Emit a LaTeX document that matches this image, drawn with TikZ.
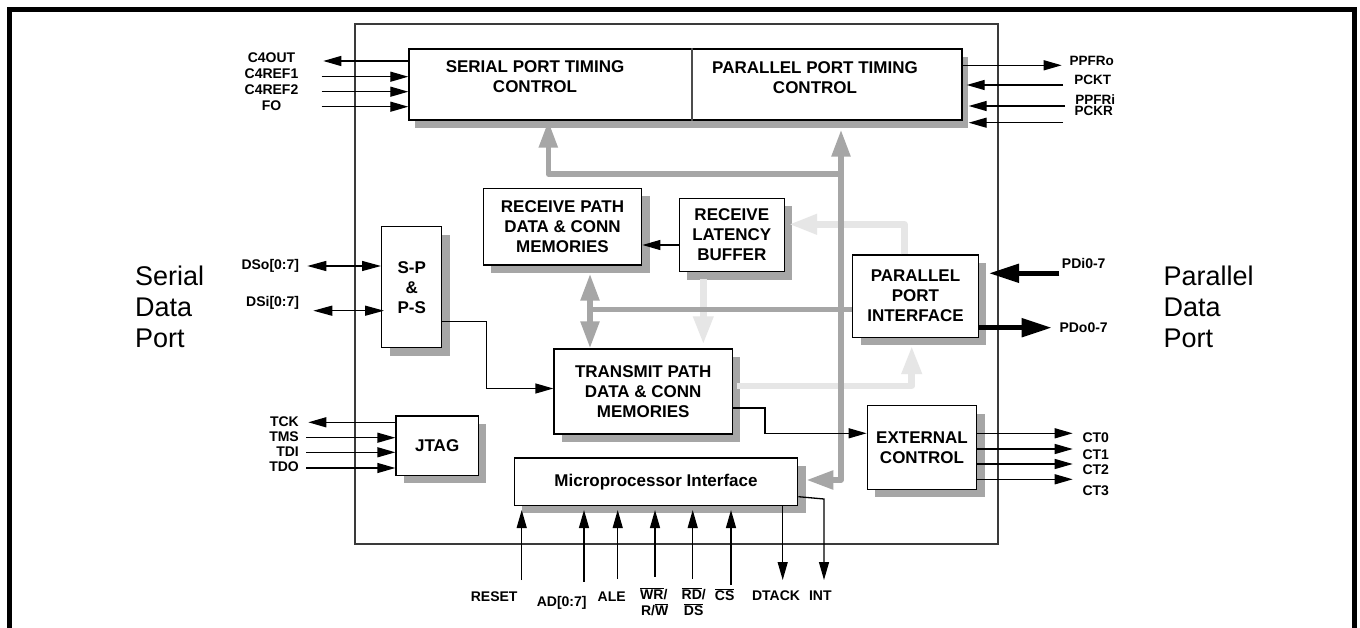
\documentclass[tikz,border=0pt]{standalone}
\usepackage{fontspec}
\setmainfont{Liberation Sans}
\usetikzlibrary{arrows.meta,shadows,calc}
\definecolor{shgray}{HTML}{A6A6A6}
\definecolor{busdark}{HTML}{A6A6A6}
\definecolor{buslight}{HTML}{E6E6E6}
\definecolor{chipline}{HTML}{3A3A3A}
\newcommand\ovl[1]{$\overline{\hbox{#1}}$}
\begin{document}
\begin{tikzpicture}[x=1pt,y=-1pt,
  blk/.style={draw=black,line width=1.4pt,fill=white,inner sep=0pt,align=center,
    font=\fontsize{17}{20}\selectfont\bfseries,
    drop shadow={shadow xshift=8pt,shadow yshift=-8pt,fill=shgray,opacity=1}},
  blktext/.style={inner sep=0pt,align=center,font=\fontsize{17}{20}\selectfont\bfseries},
  pin/.style={inner sep=0pt,font=\fontsize{14}{16}\selectfont\bfseries},
  pinr/.style={inner sep=0pt,font=\fontsize{13.5}{16}\selectfont\bfseries},
  port/.style={inner sep=0pt,align=left,font=\fontsize{27}{31}\selectfont},
  sig/.style={line width=1.3pt,-{Triangle[length=18pt,width=10pt]}},
  sigb/.style={line width=1.3pt,{Triangle[length=19pt,width=10pt]}-{Triangle[length=19pt,width=10pt]}},
  fat/.style={line width=5pt,-{Triangle[length=30pt,width=18pt]}},
  dbus/.style={draw=busdark,line width=5.5pt,line join=round},
  lbus/.style={draw=buslight,line width=6.5pt,line join=round},
  dtip/.style={-{Triangle[length=27pt,width=18pt]}},
  dtips/.style={{Triangle[length=27pt,width=18pt]}-{Triangle[length=27pt,width=18pt]}},
  ltip/.style={-{Triangle[length=28pt,width=19pt]}}
]
\useasboundingbox (0,0) rectangle (1360,628);
\fill[white] (0,0) rectangle (1360,628);
% outer frame
\draw[line width=5pt] (9.5,640) -- (9.5,9.5) -- (1354,9.5) -- (1354,640);
% chip boundary
\node[draw=chipline,line width=1.4pt,minimum width=643pt,minimum height=520pt,inner sep=0pt] (chip) at (676.5,284) {};

% timing control
\node[draw=black,line width=1.4pt,fill=white,inner sep=0pt,minimum width=553pt,minimum height=71pt,
  drop shadow={shadow xshift=5.5pt,shadow yshift=-8.5pt,fill=shgray,opacity=1}] (tc) at (685.5,84.5) {};
\coordinate (dv) at (692,84.5);
\draw[line width=1.2pt,draw=black!70] (dv |- tc.north) -- (dv |- tc.south);
\node[blktext] (spt) at (535,77) {SERIAL PORT TIMING\\CONTROL};
\node[blktext] (ppt) at (815,78) {PARALLEL PORT TIMING\\CONTROL};

% blocks
\node[blk,minimum width=158.4pt,minimum height=76.7pt] (rp) at (562.5,226.7) {RECEIVE PATH\\DATA \& CONN\\MEMORIES};
\node[blk,minimum width=105pt,minimum height=73.4pt] (rlb) at (731.8,235) {RECEIVE\\LATENCY\\BUFFER};
\node[blk,minimum width=60pt,minimum height=121pt] (sp) at (411.7,287.2) {S-P\\\&\\P-S};
\node[blk,minimum width=178.3pt,minimum height=85pt] (tp) at (643.2,391.5) {TRANSMIT PATH\\DATA \& CONN\\MEMORIES};
\node[blk,minimum width=125.6pt,minimum height=82.3pt] (ppi) at (915.5,296.2) {PARALLEL\\PORT\\INTERFACE};
\node[blk,minimum width=109.4pt,minimum height=83.6pt] (ec) at (922,447.5) {EXTERNAL\\CONTROL};
\node[blk,minimum width=283.4pt,minimum height=47.3pt] (mi) at (656,481.7) {Microprocessor Interface};
\node[blk,minimum width=82.3pt,minimum height=59.3pt] (jtag) at (437.2,445.7) {JTAG};

% light buses
\coordinate (l1s) at (703.3,279);
\draw[lbus,ltip] (l1s) -- ($(l1s |- tp.north)+(0,-4)$);
\coordinate (l2) at (904.3,224.3);
\draw[lbus,ltip] (l2 |- ppi.north) -- (l2) -- ($(l2 -| rlb.east)+(4,0)$);
\coordinate (l3) at (911.7,386);
\draw[lbus,ltip] ($(l3 -| tp.east)+(4,0)$) -- (l3) -- ($(l3 |- ppi.south)+(0,8)$);

% dark buses
\coordinate (sbus) at (548.3,174);
\coordinate (vbus) at (841,174);
\draw[dbus,dtip] (vbus) -- (sbus) -- (sbus |- tc.south);
\coordinate (mib) at (841,480);
\draw[dbus,dtips] ($(mib -| mi.east)+(8,0)$) -- (mib) -- ($(mib |- tc.south)+(0,9)$);
\coordinate (hbus) at (590,309.3);
\draw[dbus] (hbus) -- (hbus -| ppi.west);
\draw[dbus,dtips] ($(hbus |- rp.south)+(0,8)$) -- (hbus |- tp.north);

% internal signals
\coordinate (rlbo) at ($(rlb.west)+(0,10)$);
\draw[sig] (rlbo) -- (rlbo -| rp.east);
\coordinate (sptp) at (486.7,321.7);
\draw[sig] (sptp -| sp.east) -- (sptp) |- ($(tp.west)+(0,-3)$);
\coordinate (tpo) at (765,408);
\draw[sig] (tpo -| tp.east) -- (tpo) |- ($(ec.west)+(0,-14.2)$);

% top-left pins
\node[pin,anchor=base] (c4out) at (271.5,62.7) {C4OUT};
\node[pin,anchor=base] (c4ref1) at (271.5,79) {C4REF1};
\node[pin,anchor=base] (c4ref2) at (271.5,95) {C4REF2};
\node[pin,anchor=base] (fo) at (271.5,111) {FO};
\coordinate (c4oute) at (323.3,61);
\draw[sig] (c4oute -| tc.west) -- (c4oute);
\coordinate (c4r1e) at (321.7,76.7);
\draw[sig] (c4r1e) -- (c4r1e -| tc.west);
\coordinate (c4r2e) at (321.7,91.7);
\draw[sig] (c4r2e) -- (c4r2e -| tc.west);
\coordinate (foe) at (321.7,106.7);
\draw[sig] (foe) -- (foe -| tc.west);

% top-right pins
\node[pinr,anchor=base] (ppfro) at (1091.7,65.7) {PPFRo};
\node[pinr,anchor=base] (pckt) at (1092.8,84.3) {PCKT};
\node[pinr,anchor=base] (ppfri) at (1095.3,104.3) {PPFRi};
\node[pinr,anchor=base] (pckr) at (1093.8,115.5) {PCKR};
\coordinate (ppfroe) at (1061.7,65.3);
\draw[sig] (ppfroe -| tc.east) -- (ppfroe);
\coordinate (pckte) at (1063,85);
\draw[sig] (pckte) -- ($(pckte -| tc.east)+(4,0)$);
\coordinate (ppfrie) at (1065,106);
\draw[sig] (ppfrie) -- ($(ppfrie -| tc.east)+(6,0)$);
\coordinate (pckre) at (1063,122.7);
\draw[sig] (pckre) -- ($(pckre -| tc.east)+(6,0)$);

% serial data pins
\node[pin,anchor=base east] (dso) at (299.3,270) {DSo[0:7]};
\node[pin,anchor=base east] (dsi) at (299.3,306.7) {DSi[0:7]};
\coordinate (dsoe) at (307.3,266);
\draw[sigb] (dsoe) -- (dsoe -| sp.west);
\coordinate (dsie) at (313.3,310.7);
\draw[sigb] (dsie) -- ($(dsie -| sp.west)+(3,0)$);

% JTAG pins
\node[pin,anchor=base east] (tck) at (299,426.7) {TCK};
\node[pin,anchor=base east] (tms) at (299,441) {TMS};
\node[pin,anchor=base east] (tdi) at (299,456) {TDI};
\node[pin,anchor=base east] (tdo) at (299,471) {TDO};
\coordinate (tcke) at (308.3,422.3);
\draw[sig] (tcke -| jtag.west) -- (tcke);
\coordinate (tmse) at (306,437.7);
\draw[sig] (tmse) -- (tmse -| jtag.west);
\coordinate (tdie) at (306,452.3);
\draw[sig] (tdie) -- (tdie -| jtag.west);
\coordinate (tdoe) at (306,468);
\draw[sig] (tdoe) -- (tdoe -| jtag.west);

% parallel data
\node[pin,anchor=base west] (pdi) at (1061.7,268.3) {PDi0-7};
\node[pin,anchor=base west] (pdo) at (1059.3,332.3) {PDo0-7};
\coordinate (pdie) at (1059.3,273.3);
\draw[fat] (pdie) -- ($(pdie -| ppi.east)+(10,0)$);
\coordinate (pdoe) at (1051.7,327.7);
\draw[fat] (pdoe -| ppi.east) -- (pdoe);

% external control outputs
\node[pin,anchor=base west] (ct0) at (1082.3,442.7) {CT0};
\node[pin,anchor=base west] (ct1) at (1082.3,459.3) {CT1};
\node[pin,anchor=base west] (ct2) at (1082.3,474) {CT2};
\node[pin,anchor=base west] (ct3) at (1082.3,495) {CT3};
\coordinate (ct0e) at (1072.7,433.3);
\draw[sig] (ct0e -| ec.east) -- (ct0e);
\coordinate (ct1e) at (1072.7,449);
\draw[sig] (ct1e -| ec.east) -- (ct1e);
\coordinate (ct2e) at (1072.7,464);
\draw[sig] (ct2e -| ec.east) -- (ct2e);
\coordinate (ct3e) at (1072.7,479.3);
\draw[sig] (ct3e -| ec.east) -- (ct3e);

% microprocessor pins
\node[pin,anchor=base] (rst) at (494.2,601.7) {RESET};
\node[pin,anchor=base] (adl) at (561.7,606.7) {AD[0:7]};
\node[pin,anchor=base] (alel) at (611.7,601.7) {ALE};
\node[pin,anchor=base] (wr1) at (653.8,599) {\ovl{WR}/};
\node[pin,anchor=base] (wr2) at (654.6,615) {R/\ovl{W}};
\node[pin,anchor=base] (rd1) at (693.7,599) {\ovl{RD}/};
\node[pin,anchor=base] (rd2) at (693.7,615) {\ovl{DS}};
\node[pin,anchor=base] (csl) at (724.7,600.7) {\ovl{CS}};
\node[pin,anchor=base] (dtk) at (776,600.7) {DTACK};
\node[pin,anchor=base] (intl) at (820.3,600.7) {INT};
\coordinate (rste) at (521.7,580);
\draw[sig] (rste) -- ($(rste |- mi.south)+(0,4)$);
\coordinate (ade) at (584,581.7);
\draw[sig] (ade) -- ($(ade |- mi.south)+(0,4)$);
\coordinate (alee) at (617.7,579);
\draw[sig] (alee) -- ($(alee |- mi.south)+(0,4)$);
\coordinate (wre) at (655,576.7);
\draw[sig] (wre) -- ($(wre |- mi.south)+(0,4)$);
\coordinate (rde) at (692.7,579);
\draw[sig] (rde) -- ($(rde |- mi.south)+(0,4)$);
\coordinate (cse) at (731,585);
\draw[sig] (cse) -- ($(cse |- mi.south)+(0,4)$);
\coordinate (dtke) at (782.7,580);
\draw[sig] (dtke |- mi.south) -- (dtke);
\coordinate (intk) at (824,499);
\coordinate (inte) at (824,580);
\draw[sig] ($(mi.east)+(0,15)$) -- (intk) -- (inte);

% port captions
\node[port,anchor=west] (sdp) at (135,306.4) {Serial\\Data\\Port};
\node[port,anchor=west] (pdp) at (1163.3,306.7) {Parallel\\Data\\Port};
\end{tikzpicture}
\end{document}
